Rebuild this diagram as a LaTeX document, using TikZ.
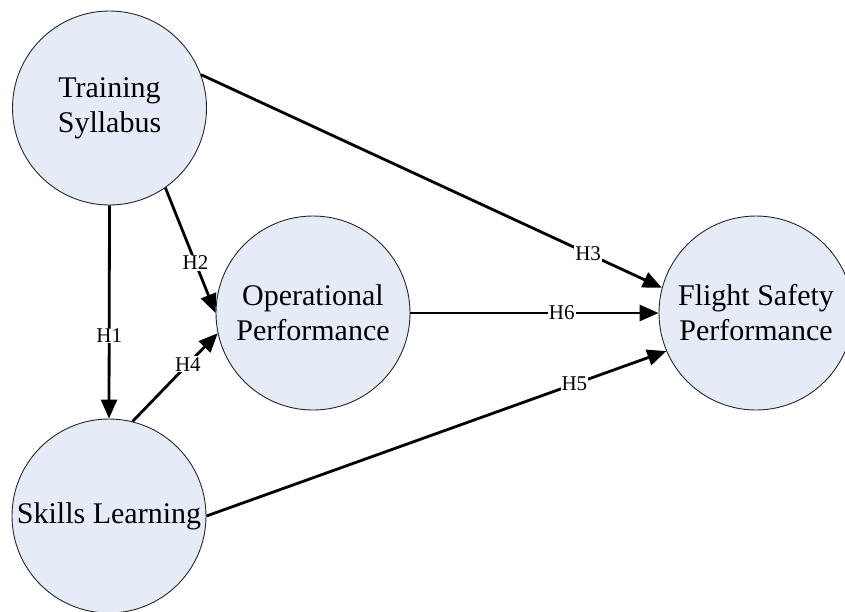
\documentclass[tikz,border=0pt]{standalone}
\usepackage{fontspec}
\setmainfont{Liberation Serif}
\usetikzlibrary{arrows.meta}
\definecolor{bubble}{RGB}{230,236,247}
\tikzset{
  construct/.style={circle, draw=black!85, line width=0.9pt, fill=bubble,
    minimum size=194pt, inner sep=0pt, align=center,
    font=\fontsize{30}{35}\selectfont},
  path/.style={line width=2.8pt, -{Triangle[length=19pt,width=16pt]}},
  hyp/.style={fill=white, inner sep=1pt, font=\fontsize{21}{21}\selectfont}
}
\begin{document}
\begin{tikzpicture}[x=1pt,y=-1pt]
\useasboundingbox (0,0) rectangle (845,611);
\clip (0,0) rectangle (845,611);
\node[construct] (ts) at (109.5,108) {Training\\Syllabus};
\node[construct] (op) at (313,313) {Operational\\Performance};
\node[construct] (fs) at (756,313) {Flight Safety\\Performance};
\node[construct] (sl) at (109,516) {Skills Learning};

\draw[path] (ts.south) -- node[hyp, pos=0.61] (h1) {H1} (sl.north);
\draw[path] (ts.-55) -- node[hyp, pos=0.6] (h2) {H2} (op.west);
\draw[path] (sl.76) -- node[hyp, pos=0.65] (h4) {H4} (op.192);
\draw[path] (ts.20) -- node[hyp, pos=0.84] (h3) {H3} (fs.165);
\draw[path] (op.east) -- node[hyp, pos=0.61] (h6) {H6} (fs.west);
\draw[path] (sl.east) -- node[hyp, pos=0.80] (h5) {H5} (fs.203);
\end{tikzpicture}
\end{document}
